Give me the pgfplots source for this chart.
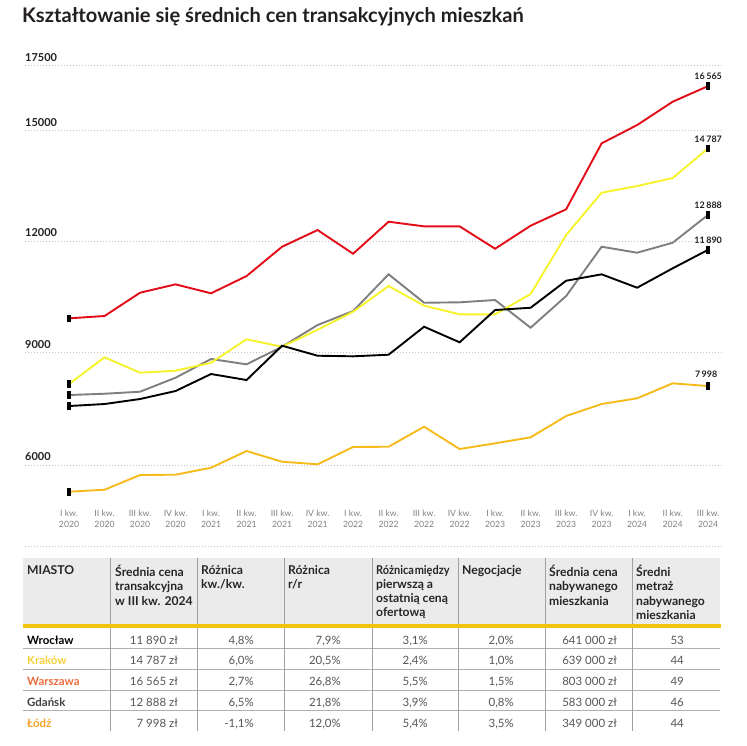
\documentclass[border=0pt]{standalone}
\usepackage{fontspec}
\setmainfont{Lato}
\usepackage{pgfplots}
\pgfplotsset{compat=1.18}

\definecolor{wawa}{HTML}{E30B17}
\definecolor{krk}{HTML}{F7F32A}
\definecolor{gda}{HTML}{7F7F7F}
\definecolor{lodz}{HTML}{F6BB1B}
\definecolor{gridc}{HTML}{C4C4C4}
\definecolor{tickc}{HTML}{808080}
\definecolor{titletxt}{HTML}{231F20}
\definecolor{hdrbg}{HTML}{EBEBEB}
\definecolor{hdrtxt}{HTML}{262626}
\definecolor{hdrline}{HTML}{F2C40F}
\definecolor{krktxt}{HTML}{F5CF3A}
\definecolor{wawatxt}{HTML}{EE6A3C}
\definecolor{lodztxt}{HTML}{F4A42A}
\definecolor{gdatxt}{HTML}{404040}
\definecolor{valtxt}{HTML}{555555}
\definecolor{rulec}{HTML}{B0B0B0}
\definecolor{sepc}{HTML}{A0A0A0}

\newcommand\hdr[3]{\node[anchor=north west, align=left, inner sep=0pt,
  font=\fontsize{12.2}{14.3}\selectfont\bfseries, text=hdrtxt] at (#1,#2) {#3};}
\newcommand\row[9]{%
  \node[anchor=base west, inner sep=0pt, font=\fontsize{11.5}{13}\selectfont\bfseries] at (27,#1) {#2};
  \node[anchor=base east, inner sep=0pt, font=\fontsize{11.5}{13}\selectfont, text=valtxt] at (178,#1) {#3};
  \node[anchor=base east, inner sep=0pt, font=\fontsize{11.5}{13}\selectfont, text=valtxt] at (254,#1) {#4};
  \node[anchor=base east, inner sep=0pt, font=\fontsize{11.5}{13}\selectfont, text=valtxt] at (341,#1) {#5};
  \node[anchor=base east, inner sep=0pt, font=\fontsize{11.5}{13}\selectfont, text=valtxt] at (428,#1) {#6};
  \node[anchor=base east, inner sep=0pt, font=\fontsize{11.5}{13}\selectfont, text=valtxt] at (514,#1) {#7};
  \node[anchor=base east, inner sep=0pt, font=\fontsize{11.5}{13}\selectfont, text=valtxt] at (617,#1) {#8};
  \node[anchor=base east, inner sep=0pt, font=\fontsize{11.5}{13}\selectfont, text=valtxt] at (684,#1) {#9};
}

\begin{document}
\begin{tikzpicture}
\useasboundingbox (0,0) rectangle (747bp,-746bp);

\begin{axis}[
    at={(25bp,-546bp)}, anchor=south west,
    scale only axis, width=697bp, height=492.7bp,
    xmin=-1.24, xmax=18.39, ymin=3432, ymax=17500,
    axis line style={draw=none},
    major tick length=0pt,
    scaled y ticks=false,
    ytick={3432,5745,8956,12140,15289,17145},
    yticklabels={,6000,9000,12000,15000,17500},
    ymajorgrids,
    grid style={gridc, line width=0.8bp, dash pattern=on 0.8bp off 2.2bp},
    yticklabel style={anchor=south west, inner sep=0pt, yshift=4bp,
        font=\fontsize{11}{13}\selectfont\bfseries, text=titletxt},
    xtick={0,...,18},
    xticklabels={{I kw.\\2020},{II kw.\\2020},{III kw.\\2020},{IV kw.\\2020},
        {I kw.\\2021},{II kw.\\2021},{III kw.\\2021},{IV kw.\\2021},
        {I kw.\\2022},{II kw.\\2022},{III kw.\\2022},{IV kw.\\2022},
        {I kw.\\2023},{II kw.\\2023},{III kw.\\2023},{IV kw.\\2023},
        {I kw.\\2024},{II kw.\\2024},{III kw.\\2024}},
    xticklabel style={align=center, inner sep=0pt, yshift=36bp,
        font=\fontsize{8.7}{11}\selectfont, text=tickc},
    every axis plot/.append style={line width=1.9bp, mark=|, mark indices={1,19},
        mark size=3.8bp, mark options={black, line width=3.4bp}},
    clip=false,
]
% Gdańsk
\addplot[gda] coordinates {
    (0,7743) (1,7780) (2,7837) (3,8237) (4,8771) (5,8619) (6,9122) (7,9742)
    (8,10141) (9,11189) (10,10378) (11,10390) (12,10455) (13,9665) (14,10569)
    (15,11977) (16,11806) (17,12091) (18,12888)
};
% Kraków
\addplot[krk] coordinates {
    (0,8057) (1,8819) (2,8380) (3,8437) (4,8665) (5,9333) (6,9122) (7,9607)
    (8,10121) (9,10855) (10,10293) (11,10047) (12,10047) (13,10627) (14,12311)
    (15,13519) (16,13710) (17,13938) (18,14787)
};
% Wrocław
\addplot[black] coordinates {
    (0,7429) (1,7486) (2,7629) (3,7857) (4,8343) (5,8171) (6,9151) (7,8865)
    (8,8848) (9,8894) (10,9693) (11,9248) (12,10170) (13,10235) (14,11006)
    (15,11189) (16,10807) (17,11360) (18,11890)
};
% Warszawa
\addplot[wawa] coordinates {
    (0,9933) (1,9999) (2,10664) (3,10903) (4,10647) (5,11140) (6,11977) (7,12454)
    (8,11777) (9,12691) (10,12559) (11,12559) (12,11920) (13,12577) (14,13045)
    (15,14929) (16,15452) (17,16117) (18,16565)
};
% Łódź
\addplot[lodz] coordinates {
    (0,4982) (1,5039) (2,5459) (3,5468) (4,5667) (5,6144) (6,5839) (7,5765)
    (8,6258) (9,6267) (10,6838) (11,6201) (12,6364) (13,6535) (14,7143)
    (15,7486) (16,7649) (17,8077) (18,7998)
};

\begin{scope}[every node/.style={anchor=south, inner sep=0pt, yshift=6bp,
    font=\fontsize{9}{10}\selectfont\bfseries, text=titletxt}]
\node at (axis cs:18,16565) {16\,565};
\node at (axis cs:18,14787) {14\,787};
\node at (axis cs:18,12888) {12\,888};
\node at (axis cs:18,11890) {11\,890};
\node[xshift=-2bp, yshift=2bp] at (axis cs:18,7998) {7\,998};
\end{scope}
\end{axis}

\begin{scope}[x=1bp, y=-1bp]
\node[anchor=base west, inner sep=0pt, font=\fontsize{20.2}{24}\selectfont\bfseries,
    text=titletxt] at (22,22.5) {Kształtowanie się średnich cen transakcyjnych mieszkań};

% table
\fill[hdrbg] (23,558) rectangle (720,625);
\foreach \y in {648.3,669.3,690,710.7}
    \draw[rulec, line width=1bp] (23,\y) -- (720,\y);
\foreach \x in {110,197,284,372,458,545,632}
    \draw[sepc, line width=0.9bp] (\x,558) -- (\x,731);
\draw[hdrline, line width=3.3bp] (23,626) -- (721,626);

\hdr{27}{565}{MIASTO}
\hdr{115}{565}{Średnia cena\\transakcyjna\\w III kw. 2024}
\hdr{201}{565}{Różnica\\kw./kw.}
\hdr{288}{565}{Różnica\\r/r}
\hdr{376}{565}{\scalebox{0.9}[1]{Różnica\hspace{1pt}między}\\pierwszą a\\ostatnią ceną\\ofertową}
\hdr{462}{565}{Negocjacje}
\hdr{549}{565}{Średnia cena\\nabywanego\\mieszkania}
\hdr{636}{565}{Średni\\metraż\\nabywanego\\mieszkania}

\row{644}{\color{black}Wrocław}{11 890 zł}{4,8\%}{7,9\%}{3,1\%}{2,0\%}{641 000 zł}{53}
\row{664.8}{\color{krktxt}Kraków}{14 787 zł}{6,0\%}{20,5\%}{2,4\%}{1,0\%}{639 000 zł}{44}
\row{685.6}{\color{wawatxt}Warszawa}{16 565 zł}{2,7\%}{26,8\%}{5,5\%}{1,5\%}{803 000 zł}{49}
\row{706.4}{\color{gdatxt}Gdańsk}{12 888 zł}{6,5\%}{21,8\%}{3,9\%}{0,8\%}{583 000 zł}{46}
\row{727.2}{\color{lodztxt}Łódź}{7 998 zł}{-1,1\%}{12,0\%}{5,4\%}{3,5\%}{349 000 zł}{44}
\end{scope}
\end{tikzpicture}
\end{document}
